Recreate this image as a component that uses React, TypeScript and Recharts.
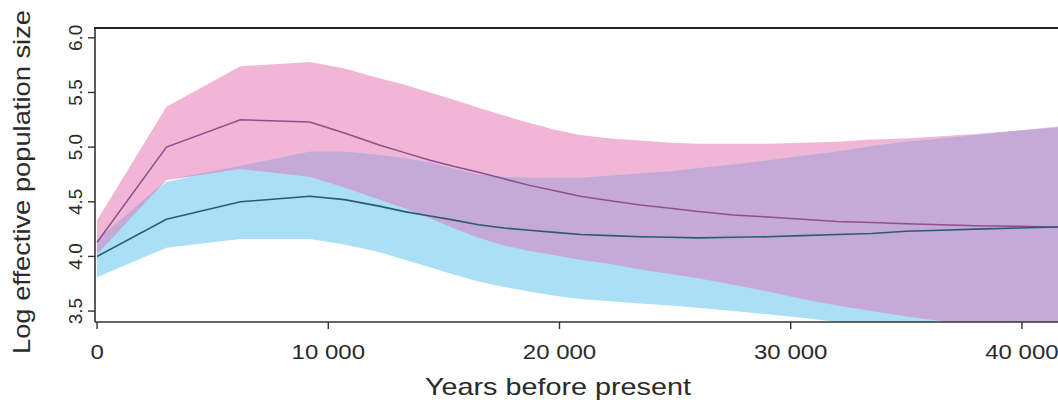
import { ComposedChart, Area, Line, XAxis, YAxis } from 'recharts';

// years before present, sampled along the skyline curves
const YEARS = [
  0, 3000, 6200, 9200, 10700, 12200, 13300, 14400, 15500, 16500, 17600, 18700, 19800, 20900,
  22200, 23500, 24800, 26000, 27500, 29000, 30500, 32000, 33500, 35000, 36500, 38000, 39800, 41600,
];

// pink population (log Ne): 95% HPD upper / median / lower
const PINK_HI = [
  4.33, 5.37, 5.74, 5.78, 5.72, 5.63, 5.57, 5.5, 5.43, 5.36, 5.29, 5.22, 5.16, 5.11,
  5.08, 5.06, 5.04, 5.03, 5.03, 5.03, 5.04, 5.05, 5.07, 5.08, 5.1, 5.12, 5.15, 5.19,
];
const PINK_MED = [
  4.13, 5.0, 5.25, 5.23, 5.13, 5.02, 4.95, 4.88, 4.82, 4.77, 4.71, 4.65, 4.6, 4.55,
  4.51, 4.47, 4.44, 4.41, 4.38, 4.36, 4.34, 4.32, 4.31, 4.3, 4.29, 4.28, 4.275, 4.27,
];
const PINK_LO = [
  4.02, 4.7, 4.8, 4.73, 4.63, 4.52, 4.44, 4.35, 4.25, 4.17, 4.1, 4.05, 4.01, 3.97,
  3.93, 3.88, 3.84, 3.8, 3.74, 3.68, 3.61, 3.55, 3.5, 3.45, 3.41, 3.37, 3.32, 3.28,
];

// blue population
const BLUE_HI = [
  4.15, 4.68, 4.83, 4.96, 4.96, 4.93, 4.9, 4.86, 4.8, 4.75, 4.73, 4.72, 4.72, 4.72,
  4.74, 4.76, 4.78, 4.81, 4.84, 4.88, 4.92, 4.96, 5.01, 5.05, 5.08, 5.11, 5.15, 5.18,
];
const BLUE_MED = [
  4.0, 4.34, 4.5, 4.55, 4.52, 4.46, 4.41, 4.37, 4.33, 4.29, 4.26, 4.24, 4.22, 4.2,
  4.19, 4.18, 4.175, 4.17, 4.175, 4.18, 4.19, 4.2, 4.21, 4.23, 4.24, 4.25, 4.26, 4.27,
];
const BLUE_LO = [
  3.81, 4.08, 4.16, 4.16, 4.11, 4.04, 3.97, 3.9, 3.83, 3.77, 3.72, 3.68, 3.64, 3.61,
  3.59, 3.57, 3.55, 3.53, 3.5, 3.47, 3.44, 3.4, 3.37, 3.33, 3.3, 3.26, 3.22, 3.18,
];

const X_TICKS = [0, 10000, 20000, 30000, 40000];
const Y_TICKS = [3.5, 4, 4.5, 5, 5.5, 6];

const PINK = '#f1b6d5';
const BLUE = '#abdff5';
const PURPLE = '#c5a9d6';
const AXIS = '#333333';
const FONT = '"Liberation Sans", Arial, sans-serif';

const rows = YEARS.map((year, i) => {
  const lo = Math.max(PINK_LO[i], BLUE_LO[i]);
  const hi = Math.max(lo, Math.min(PINK_HI[i], BLUE_HI[i]));
  return {
    year,
    pink: [PINK_LO[i], PINK_HI[i]],
    blue: [BLUE_LO[i], BLUE_HI[i]],
    overlap: [lo, hi],
    pinkMed: PINK_MED[i],
    blueMed: BLUE_MED[i],
  };
});

const fmtYear = (v: number) => (v === 0 ? '0' : `${Math.round(v / 1000)} 000`);

function XTick({ x, y, payload }: any) {
  return (
    <g transform={`translate(${x},${y}) scale(1.2,1)`}>
      <text x={0} y={28} textAnchor="middle" fontSize={20} fontFamily={FONT} fill="#2a2a2a">
        {fmtYear(payload.value)}
      </text>
    </g>
  );
}

function YTick({ x, y, payload }: any) {
  return (
    <g transform={`translate(${x - 4},${y}) rotate(-90)`}>
      <text x={0} y={0} textAnchor="middle" fontSize={19} fontFamily={FONT} fill="#2a2a2a">
        {payload.value.toFixed(1)}
      </text>
    </g>
  );
}

export default function App() {
  return (
    <div style={{ position: 'absolute', left: 0, top: 0, width: 1058, height: 400, background: '#fff' }}>
      <ComposedChart width={1058} height={400} data={rows} margin={{ top: 28, right: 0, bottom: 0, left: 0 }}>
        <XAxis
          dataKey="year"
          type="number"
          domain={[-90, 41560]}
          allowDataOverflow
          ticks={X_TICKS}
          height={78}
          tickSize={7}
          axisLine={{ stroke: AXIS, strokeWidth: 1.6 }}
          tickLine={{ stroke: AXIS, strokeWidth: 1.4 }}
          tick={<XTick />}
        />
        <YAxis
          type="number"
          domain={[3.4, 6.09]}
          allowDataOverflow
          ticks={Y_TICKS}
          width={95}
          tickSize={7}
          axisLine={{ stroke: AXIS, strokeWidth: 1.6 }}
          tickLine={{ stroke: AXIS, strokeWidth: 1.4 }}
          tick={<YTick />}
        />
        <Area type="linear" dataKey="pink" fill={PINK} fillOpacity={1} stroke="none" isAnimationActive={false} />
        <Area type="linear" dataKey="blue" fill={BLUE} fillOpacity={1} stroke="none" isAnimationActive={false} />
        <Area type="linear" dataKey="overlap" fill={PURPLE} fillOpacity={1} stroke="none" isAnimationActive={false} />
        <Line type="linear" dataKey="pinkMed" stroke="#8d4f8e" strokeWidth={1.5} dot={false} isAnimationActive={false} />
        <Line type="linear" dataKey="blueMed" stroke="#2c5a74" strokeWidth={1.6} dot={false} isAnimationActive={false} />
      </ComposedChart>
      <svg
        width={1058}
        height={400}
        style={{ position: 'absolute', left: 0, top: 0, pointerEvents: 'none', zIndex: 4 }}
      >
        {/* top frame of the plot box */}
        <rect x={94} y={27} width={964} height={2} fill="#222" />
        <text
          x={425}
          y={395}
          fontSize={24}
          fontFamily={FONT}
          fill="#2a2a2a"
          textLength={266}
          lengthAdjust="spacingAndGlyphs"
        >
          Years before present
        </text>
        <text
          transform="translate(30,182) rotate(-90)"
          textAnchor="middle"
          fontSize={24}
          fontFamily={FONT}
          fill="#2a2a2a"
          textLength={344}
          lengthAdjust="spacingAndGlyphs"
        >
          Log effective population size
        </text>
      </svg>
    </div>
  );
}
